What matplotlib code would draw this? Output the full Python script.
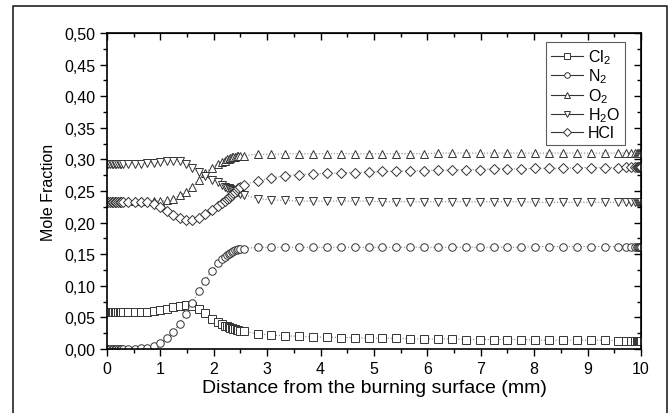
import matplotlib
matplotlib.use("Agg")
import matplotlib.pyplot as plt
from matplotlib.lines import Line2D
from matplotlib.ticker import MultipleLocator, FuncFormatter

plt.rcParams['font.family'] = ['Liberation Sans', 'DejaVu Sans']
plt.rcParams['mathtext.default'] = 'regular'

# distance from the burning surface (mm) - solver grid, dense near 0, 2.3 and 10
x = [0.00, 0.03, 0.06, 0.09, 0.12, 0.15, 0.18, 0.21, 0.24, 0.27, 0.30,
     0.40, 0.52, 0.64, 0.76, 0.88, 1.00, 1.12, 1.24, 1.36, 1.48, 1.60, 1.72, 1.84, 1.96, 2.08, 2.16,
     2.21, 2.25, 2.28, 2.31, 2.34, 2.37, 2.40, 2.43, 2.46, 2.50, 2.56,
     2.82, 3.08, 3.34, 3.60, 3.86, 4.12, 4.38, 4.64, 4.90, 5.16, 5.42, 5.68, 5.94, 6.20,
     6.46, 6.72, 6.98, 7.24, 7.50, 7.76, 8.02, 8.28, 8.54, 8.80, 9.06, 9.32, 9.56,
     9.72, 9.82, 9.88, 9.92, 9.95, 9.97, 9.99, 10.0]

cl2 = [0.058, 0.058, 0.058, 0.058, 0.058, 0.058, 0.058, 0.058, 0.058, 0.058, 0.058,
       0.058, 0.058, 0.059, 0.059, 0.060, 0.062, 0.064, 0.066, 0.068, 0.069, 0.068, 0.064, 0.057, 0.048, 0.042, 0.039,
       0.037, 0.036, 0.035, 0.034, 0.033, 0.032, 0.031, 0.030, 0.030, 0.029, 0.028,
       0.024, 0.022, 0.021, 0.020, 0.019, 0.019, 0.018, 0.018, 0.017, 0.017, 0.017, 0.016, 0.016, 0.016,
       0.016, 0.015, 0.015, 0.015, 0.015, 0.015, 0.014, 0.014, 0.014, 0.014, 0.014, 0.014, 0.013,
       0.013, 0.013, 0.013, 0.013, 0.013, 0.013, 0.013, 0.013]

n2 = [0.000, 0.000, 0.000, 0.000, 0.000, 0.000, 0.000, 0.000, 0.000, 0.000, 0.000,
      0.000, 0.000, 0.001, 0.002, 0.004, 0.009, 0.017, 0.027, 0.040, 0.056, 0.073, 0.091, 0.108, 0.124, 0.136, 0.142,
      0.145, 0.148, 0.150, 0.152, 0.153, 0.155, 0.156, 0.157, 0.158, 0.158, 0.159,
      0.161, 0.161, 0.161, 0.161, 0.161, 0.161, 0.161, 0.161, 0.161, 0.161, 0.161, 0.161, 0.161, 0.161,
      0.161, 0.161, 0.161, 0.161, 0.161, 0.161, 0.162, 0.162, 0.162, 0.162, 0.162, 0.162, 0.162,
      0.162, 0.162, 0.162, 0.162, 0.162, 0.162, 0.162, 0.162]

o2 = [0.234, 0.234, 0.234, 0.234, 0.234, 0.234, 0.234, 0.234, 0.234, 0.234, 0.234,
      0.234, 0.234, 0.234, 0.234, 0.234, 0.234, 0.235, 0.238, 0.243, 0.249, 0.257, 0.268, 0.279, 0.287, 0.293, 0.296,
      0.298, 0.300, 0.301, 0.302, 0.303, 0.304, 0.304, 0.305, 0.305, 0.306, 0.306,
      0.308, 0.308, 0.309, 0.309, 0.309, 0.309, 0.309, 0.309, 0.309, 0.309, 0.309, 0.309, 0.309, 0.310,
      0.310, 0.310, 0.310, 0.310, 0.310, 0.310, 0.310, 0.310, 0.310, 0.310, 0.310, 0.310, 0.310,
      0.310, 0.310, 0.310, 0.310, 0.310, 0.310, 0.310, 0.310]

h2o = [0.293, 0.293, 0.293, 0.293, 0.293, 0.293, 0.293, 0.293, 0.293, 0.293, 0.293,
       0.293, 0.293, 0.293, 0.294, 0.295, 0.296, 0.297, 0.298, 0.297, 0.293, 0.287, 0.280, 0.273, 0.268, 0.264, 0.260,
       0.257, 0.255, 0.254, 0.253, 0.252, 0.251, 0.250, 0.249, 0.248, 0.246, 0.244,
       0.238, 0.236, 0.235, 0.234, 0.234, 0.234, 0.234, 0.234, 0.234, 0.233, 0.233, 0.233, 0.233, 0.233,
       0.233, 0.233, 0.233, 0.233, 0.233, 0.233, 0.232, 0.232, 0.232, 0.232, 0.232, 0.232, 0.232,
       0.232, 0.232, 0.232, 0.232, 0.232, 0.232, 0.232, 0.232]

hcl = [0.233, 0.233, 0.233, 0.233, 0.233, 0.233, 0.233, 0.233, 0.233, 0.233, 0.233,
       0.233, 0.233, 0.233, 0.232, 0.229, 0.224, 0.218, 0.212, 0.207, 0.204, 0.204, 0.207, 0.213, 0.220, 0.227, 0.231,
       0.234, 0.237, 0.239, 0.242, 0.244, 0.247, 0.249, 0.252, 0.254, 0.257, 0.260,
       0.266, 0.271, 0.274, 0.276, 0.277, 0.278, 0.279, 0.279, 0.280, 0.281, 0.281, 0.282, 0.282, 0.283,
       0.283, 0.284, 0.284, 0.285, 0.285, 0.285, 0.286, 0.286, 0.286, 0.287, 0.287, 0.287, 0.287,
       0.288, 0.288, 0.288, 0.288, 0.288, 0.288, 0.288, 0.288]

series = [(cl2, 's', 'Cl$_{2}$'),
          (n2, 'o', 'N$_{2}$'),
          (o2, '^', 'O$_{2}$'),
          (h2o, 'v', 'H$_{2}$O'),
          (hcl, 'D', 'HCl')]

fig = plt.figure(figsize=(6.68, 4.14), dpi=100)
ax = fig.add_axes([0.160, 0.1546, 0.7996, 0.7633])

handles = []
for ys, mk, lab in series:
    ms = 4.8 if mk == 'D' else 5.4
    ax.plot(x, ys, ls=':', lw=0.8, color='#888888', marker=mk, ms=ms,
            mfc='white', mec='#333333', mew=0.7)
    handles.append(Line2D([], [], ls='-', lw=0.8, color='#333333', marker=mk,
                          ms=4.0, mfc='white', mec='#333333', mew=0.7, label=lab))

ax.set_xlim(0, 10)
ax.set_ylim(0, 0.5)
ax.xaxis.set_major_locator(MultipleLocator(1))
ax.xaxis.set_minor_locator(MultipleLocator(0.5))
ax.yaxis.set_major_locator(MultipleLocator(0.05))
ax.yaxis.set_minor_locator(MultipleLocator(0.025))
ax.yaxis.set_major_formatter(FuncFormatter(lambda v, p: ('%.2f' % v).replace('.', ',')))
ax.tick_params(which='major', direction='out', length=5, width=1, labelsize=11.5)
ax.tick_params(which='minor', direction='out', length=3, width=1)
for s in ax.spines.values():
    s.set_linewidth(1.2)

top = ax.secondary_xaxis('top')
top.xaxis.set_major_locator(MultipleLocator(1))
top.xaxis.set_minor_locator(MultipleLocator(0.5))
top.tick_params(which='both', direction='in', labeltop=False)
top.tick_params(which='major', length=5, width=1)
top.tick_params(which='minor', length=3, width=1)
right = ax.secondary_yaxis('right')
right.yaxis.set_major_locator(MultipleLocator(0.05))
right.yaxis.set_minor_locator(MultipleLocator(0.025))
right.tick_params(which='both', direction='in', labelright=False)
right.tick_params(which='major', length=5, width=1)
right.tick_params(which='minor', length=3, width=1)

ax.set_xlabel('Distance from the burning surface (mm)', fontsize=14, labelpad=2)
ax.set_ylabel('Mole Fraction', fontsize=11.5, labelpad=6)

leg = ax.legend(handles=handles, loc='upper right', bbox_to_anchor=(0.97, 0.97),
                fontsize=11.5, frameon=True, fancybox=False, edgecolor='#333333',
                handlelength=2.0, handletextpad=0.35, labelspacing=0.05,
                borderpad=0.3, borderaxespad=0)
leg.get_frame().set_linewidth(0.8)

# outer frame around the figure
fx0, fx1, fy1 = 13 / 668, 666.5 / 668, 1 - 7 / 414
fig.add_artist(Line2D([fx0, fx0, fx1, fx1], [0, fy1, fy1, 0], color='#222222', lw=1.2,
                      transform=fig.transFigure))

fig.savefig('out.png', dpi=100)
